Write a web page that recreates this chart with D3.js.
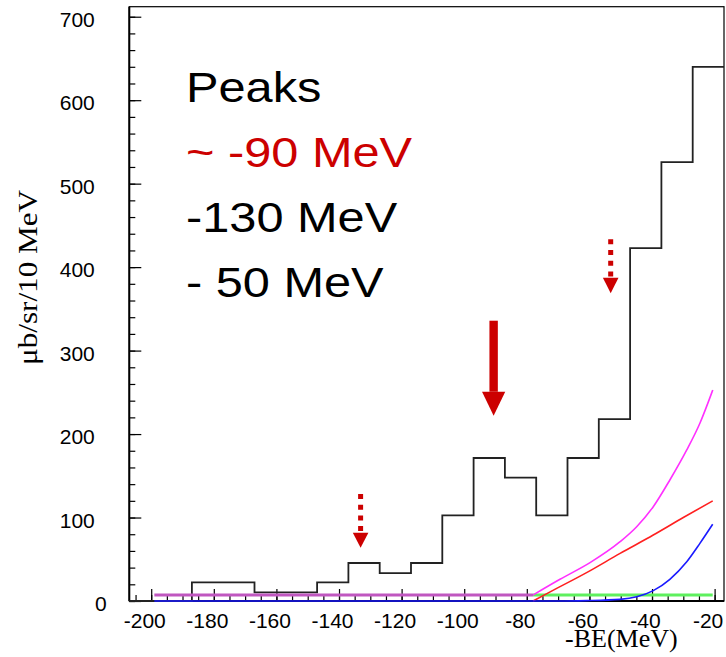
<!DOCTYPE html>
<html>
<head>
<meta charset="utf-8">
<script src="https://cdn.jsdelivr.net/npm/d3@7"></script>
<style>
body { margin: 0; background: #fff; }
svg { display: block; }
.tick text { font-family: "Liberation Sans", Arial, sans-serif; font-size: 21px; fill: #000; }
.tick line { stroke: #000; stroke-width: 1.2px; }
</style>
</head>
<body>
<div id="chart"></div>
<script>
// histogram: low edge of each 10 MeV bin and its content (ub/sr/10 MeV)
var binLow = [-207, -197, -187, -177, -167, -157, -147, -137, -127, -117, -107, -97, -87, -77, -67, -57, -47, -37, -27];
var binWidth = 10;
var binValue = [0, 0, 22.4, 22.4, 10.4, 10.4, 22.4, 45.5, 33.5, 45.5, 102.6, 171.3, 147.7, 102.6, 171.3, 218, 422.8, 525.7, 639.9];

// calculated curves
var purpleX = [-199, -78];
var purpleY = [7.2, 7.2];
var greenX = [-78, -20.6];
var greenY = [7.2, 7.2];
var redX = [-78, -71.5, -60.9, -50.2, -39.6, -30, -20.6];
var redY = [0, 13, 34, 57, 79, 100, 120];
var blueX = [-199, -70, -60.9, -50.2, -44.9, -39.6, -34.3, -28.9, -24.7, -20.6];
var blueY = [0, 0, 0.5, 2, 5, 12.4, 26, 47, 69, 92];
var magentaX = [-78, -69.4, -59.8, -50.2, -44.9, -39.6, -34.3, -28.9, -24.7, -20.6];
var magentaY = [7.2, 26, 45.9, 71, 89, 113, 145, 181, 213, 252.7];

// peak arrows (x in MeV, y in ub/sr/10 MeV)
var arrowX = [-90.6, -133.1, -53.2];
var arrowTop = [335.8, 128.2, 433.3];
var arrowBase = [250.7, 81.8, 387.3];
var arrowTip = [222, 63.9, 368.6];
var arrowDashed = [false, true, true];

// text
var peakLabels = ["Peaks", "~ -90 MeV", "-130 MeV", "- 50 MeV"];
var peakColors = ["#000", "#cc0000", "#000", "#000"];
var xTicks = [-200, -180, -160, -140, -120, -100, -80, -60, -40, -20];
var yTicks = [0, 100, 200, 300, 400, 500, 600, 700];
var xTitle = "-BE(MeV)";
var yTitle = "\u03bcb/sr/10 MeV";

var width = 726;
var height = 657;
var margin = {top: 6.7, right: 2, bottom: 56, left: 129.3};

var svg = d3.select("#chart").append("svg")
  .attr("width", width)
  .attr("height", height);

var x = d3.scaleLinear().domain([-207, -17]).range([margin.left, width - margin.right]);
var y = d3.scaleLinear().domain([0, 712]).range([height - margin.bottom, margin.top]);

// frame
svg.append("rect")
  .attr("x", x(-207))
  .attr("y", y(712))
  .attr("width", x(-17) - x(-207))
  .attr("height", y(0) - y(712))
  .attr("fill", "none")
  .attr("stroke", "#000")
  .attr("stroke-width", 1.2);

// x axis: minor ticks every 5, major every 20
var gxMinor = svg.append("g").attr("transform", "translate(0," + y(0) + ")")
  .call(d3.axisBottom(x).tickValues(d3.range(-205, -17, 5)).tickSize(-6).tickSizeOuter(0).tickFormat(""));
gxMinor.select(".domain").remove();

var gx = svg.append("g").attr("transform", "translate(0," + y(0) + ")")
  .call(d3.axisBottom(x).tickValues(xTicks).tickSize(-12).tickSizeOuter(0)
    .tickFormat(function(d) { return String(d); }));
gx.select(".domain").remove();
gx.selectAll("text")
  .attr("y", 27)
  .attr("dy", 0)
  .attr("text-anchor", "end")
  .attr("dx", function(d) { return String(Math.abs(d)).length * 11.68 / 2 - 3.5; });

// y axis: minor ticks every 20, major every 100
var gyMinor = svg.append("g").attr("transform", "translate(" + x(-207) + ",0)")
  .call(d3.axisLeft(y).tickValues(d3.range(0, 712, 20)).tickSize(-6).tickSizeOuter(0).tickFormat(""));
gyMinor.select(".domain").remove();

var gy = svg.append("g").attr("transform", "translate(" + x(-207) + ",0)")
  .call(d3.axisLeft(y).tickValues(yTicks).tickSize(-12).tickSizeOuter(0).tickPadding(34.5)
    .tickFormat(function(d) { return String(d); }));
gy.select(".domain").remove();
gy.selectAll("text")
  .attr("dy", "0.46em")
  .attr("dx", function(d) { return d == 0 ? 12 : 0; });

// heavier left and bottom axis lines
svg.append("line")
  .attr("x1", x(-207)).attr("x2", x(-207))
  .attr("y1", y(712)).attr("y2", y(0))
  .attr("stroke", "#000").attr("stroke-width", 2);
svg.append("line")
  .attr("x1", x(-207)).attr("x2", x(-17))
  .attr("y1", y(0)).attr("y2", y(0))
  .attr("stroke", "#000").attr("stroke-width", 2);

// histogram as a step line
var steps = [];
binLow.forEach(function(lo, i) {
  steps.push([lo, binValue[i]]);
  steps.push([lo + binWidth, binValue[i]]);
});
var stepLine = d3.line()
  .x(function(d) { return x(d[0]); })
  .y(function(d) { return y(d[1]); });
svg.append("path")
  .datum(steps)
  .attr("d", stepLine)
  .attr("fill", "none")
  .attr("stroke", "#222")
  .attr("stroke-width", 1.8);

// curves
function drawCurve(xs, ys, color, w) {
  var pts = xs.map(function(v, i) { return [v, ys[i]]; });
  var line = d3.line()
    .x(function(d) { return x(d[0]); })
    .y(function(d) { return y(d[1]); })
    .curve(d3.curveMonotoneX);
  svg.append("path")
    .datum(pts)
    .attr("d", line)
    .attr("fill", "none")
    .attr("stroke", color)
    .attr("stroke-width", w);
}
drawCurve(purpleX, purpleY, "#c057c0", 3);
drawCurve(greenX, greenY, "#5ef05e", 3);
drawCurve(redX, redY, "#ff2020", 1.6);
drawCurve(blueX, blueY, "#1a1aff", 1.6);
drawCurve(magentaX, magentaY, "#ff30ff", 1.6);

// arrows
var arrowRed = "#cc0000";
arrowX.forEach(function(ax, i) {
  var cx = x(ax);
  if (arrowDashed[i]) {
    svg.append("line")
      .attr("x1", cx).attr("x2", cx)
      .attr("y1", y(arrowTop[i])).attr("y2", y(arrowBase[i]))
      .attr("stroke", arrowRed)
      .attr("stroke-width", 5)
      .attr("stroke-dasharray", "5,5.7");
    var hw = 7.8;
  } else {
    svg.append("rect")
      .attr("x", cx - 4.2)
      .attr("y", y(arrowTop[i]))
      .attr("width", 8.4)
      .attr("height", y(arrowBase[i]) - y(arrowTop[i]))
      .attr("fill", arrowRed);
    var hw = 11.6;
  }
  svg.append("polygon")
    .attr("points", [[cx - hw, y(arrowBase[i])], [cx + hw, y(arrowBase[i])], [cx, y(arrowTip[i])]].join(" "))
    .attr("fill", arrowRed);
});

// peak list
peakLabels.forEach(function(t, i) {
  svg.append("text")
    .attr("transform", "translate(186," + (101.7 + i * 65) + ") scale(1.16,1)")
    .style("font-family", "'Liberation Sans', Arial, sans-serif")
    .style("font-size", "42px")
    .attr("fill", peakColors[i])
    .text(t);
});

// axis titles
svg.append("text")
  .attr("x", 565)
  .attr("y", 647)
  .style("font-family", "'Liberation Serif', 'Times New Roman', serif")
  .style("font-size", "26px")
  .text(xTitle);

svg.append("text")
  .attr("transform", "translate(37.3,277.5) rotate(-90)")
  .attr("text-anchor", "middle")
  .attr("textLength", 175)
  .attr("lengthAdjust", "spacingAndGlyphs")
  .style("font-family", "'Liberation Serif', 'Times New Roman', serif")
  .style("font-size", "28px")
  .text(yTitle);
</script>
</body>
</html>
